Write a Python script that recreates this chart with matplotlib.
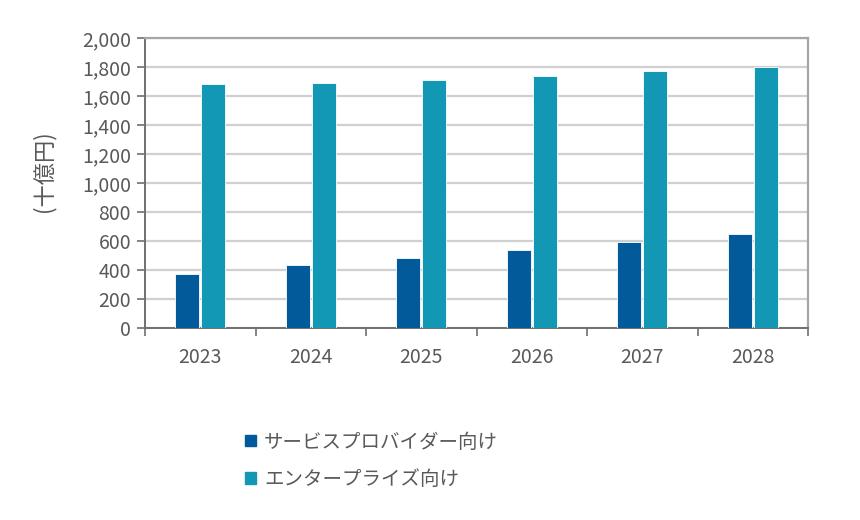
import matplotlib
matplotlib.use('Agg')
import matplotlib.pyplot as plt
import numpy as np
from matplotlib.patches import Patch

plt.rcParams['font.family'] = ['Noto Sans CJK JP', 'DejaVu Sans']

years = ['2023', '2024', '2025', '2026', '2027', '2028']
service_provider = [375, 432, 485, 536, 593, 647]
enterprise = [1680, 1689, 1710, 1740, 1770, 1797]
series_names = ['サービスプロバイダー向け', 'エンタープライズ向け']
colors = ['#035a9a', '#1297b5']
yticks = np.arange(0, 2001, 200)

txt = '#595959'

fig = plt.figure(figsize=(8.6, 5.2), dpi=100)
ax = fig.add_axes([145/860, 1 - 328/520, 663/860, 290/520])

x = np.arange(len(years))
w = 0.22
ax.bar(x - 0.118, service_provider, w, color=colors[0], edgecolor='white', linewidth=0.6, zorder=3)
ax.bar(x + 0.118, enterprise, w, color=colors[1], edgecolor='white', linewidth=0.6, zorder=3)

ax.set_xlim(-0.5, len(years) - 0.5)
ax.set_ylim(0, 2000)
ax.set_yticks(yticks)
ax.set_yticklabels([f'{v:,}' for v in yticks])
ax.yaxis.grid(True, color='#d0d0d0', linewidth=1.6, zorder=0)

ax.set_xticks(x)
ax.set_xticklabels(years)
ax.set_xticks(np.arange(-0.5, len(years)), minor=True)
ax.tick_params(axis='x', which='major', length=0, pad=14, labelsize=14, labelcolor=txt)
ax.tick_params(axis='x', which='minor', length=6, width=1.2, color='#707070', direction='out')
ax.tick_params(axis='y', length=6, width=1.2, color='#707070', labelsize=14, labelcolor=txt, pad=4)

for s in ['top', 'right']:
    ax.spines[s].set_color('#a6a6a6')
    ax.spines[s].set_linewidth(1.6)
for s in ['left', 'bottom']:
    ax.spines[s].set_color('#707070')
    ax.spines[s].set_linewidth(1.4)

ax.set_ylabel('(十億円)', fontsize=16, color=txt)
ax.yaxis.set_label_coords(-0.135, 0.54)

handles = [Patch(color=c) for c in colors]
fig.legend(handles, series_names, loc='upper left', bbox_to_anchor=(0.265, 1 - 414/520),
           frameon=False, fontsize=14, labelcolor=txt, handlelength=0.55, handleheight=0.55,
           handletextpad=0.4, labelspacing=0.85)

fig.savefig('out.png', dpi=100)
